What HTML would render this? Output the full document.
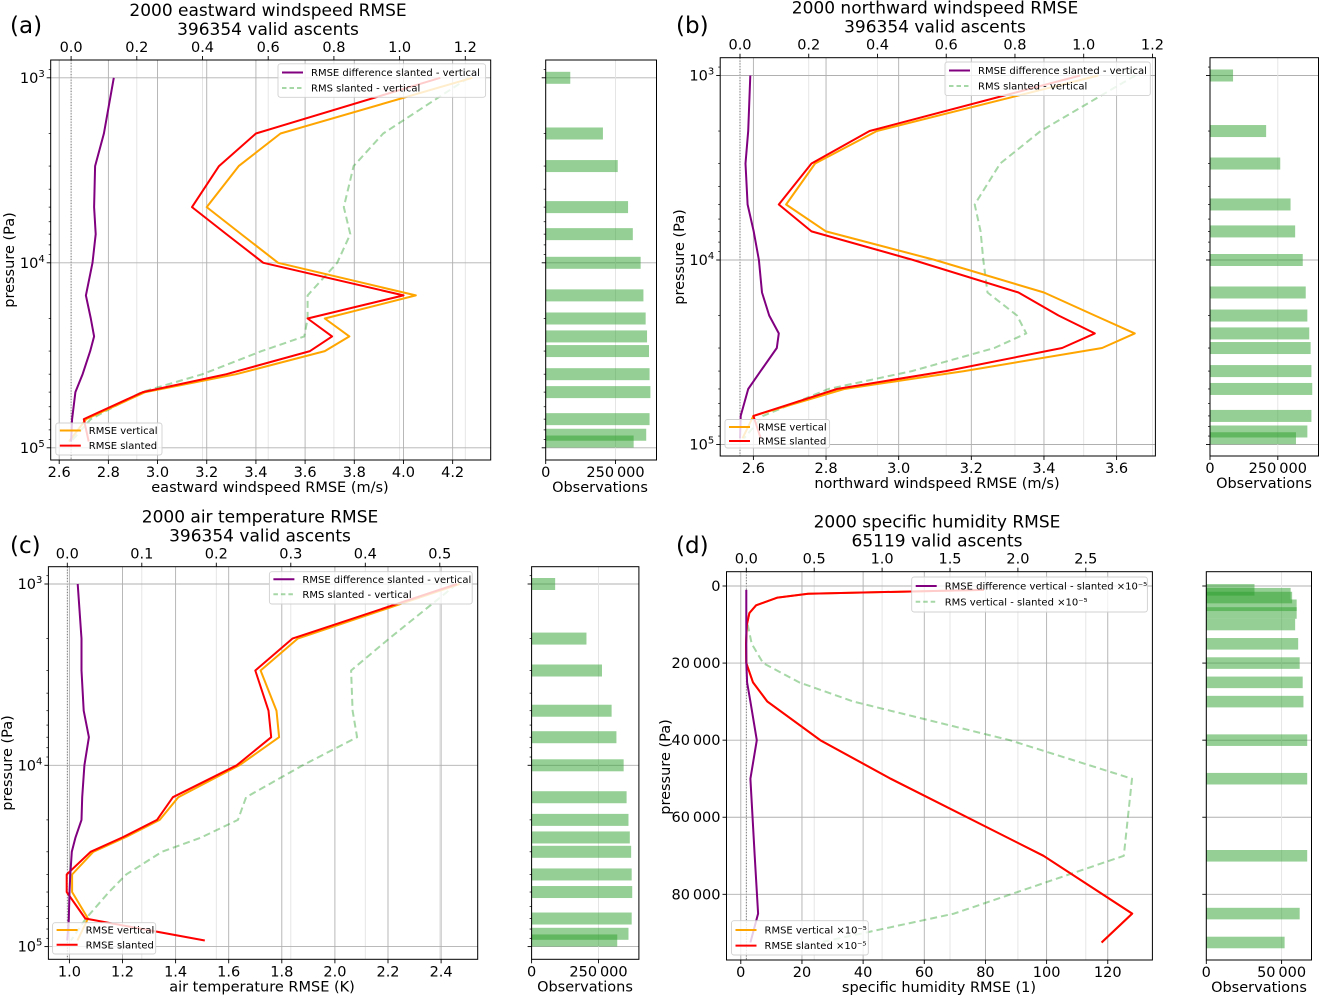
<!DOCTYPE html>
<html><head><meta charset="utf-8"><style>
body{margin:0;background:#fff}
svg{display:block;font-family:"DejaVu Sans","Liberation Sans",sans-serif}
</style></head><body>
<svg id="fig" width="1319" height="996" viewBox="0 0 1319 996" xmlns="http://www.w3.org/2000/svg"></svg>
<script>
// ---------- data ----------
const levelsWind = [1000,2000,3000,5000,7000,10000,15000,20000,25000,30000,40000,50000,70000,92500];
const levelsObs = [1000,2000,3000,5000,7000,10000,15000,20000,25000,30000,40000,50000,70000,85000,92500];
const levelsHum = [1000,2000,3000,5000,7000,10000,15000,20000,25000,30000,40000,50000,70000,85000,92500];

const aVertical = [4.28,3.50,3.33,3.20,3.34,3.49,4.05,3.68,3.78,3.68,3.32,2.95,2.71,2.64];
const aSlanted  = [4.15,3.40,3.25,3.14,3.28,3.43,4.00,3.61,3.71,3.62,3.28,2.94,2.70,2.72];
const aRms      = [1.21,0.95,0.86,0.83,0.85,0.81,0.72,0.72,0.71,0.58,0.40,0.215,0.06,0.0];
const aDiff     = [0.13,0.10,0.073,0.07,0.075,0.065,0.045,0.06,0.07,0.058,0.035,0.013,0.003,0.0];
const aObs      = [88000,205000,258000,295000,312000,340000,350000,358000,363000,370000,372000,375000,372000,360000,315000];

const bVertical = [3.55,2.94,2.77,2.69,2.80,3.10,3.40,3.54,3.65,3.56,3.18,2.85,2.60,2.57];
const bSlanted  = [3.50,2.92,2.76,2.67,2.76,3.04,3.33,3.44,3.54,3.45,3.13,2.83,2.60,2.62];
const bRms      = [1.15,0.875,0.757,0.683,0.70,0.708,0.72,0.806,0.833,0.74,0.50,0.257,0.067,0.012];
const bDiff     = [0.03,0.024,0.016,0.022,0.04,0.055,0.064,0.085,0.113,0.107,0.06,0.024,0.002,0.0];
const bObs      = [85000,207000,259000,297000,314000,342000,353000,359000,366000,371000,374000,377000,374000,359000,317000];

const cVertical = [2.47,1.86,1.72,1.78,1.79,1.64,1.41,1.34,1.21,1.09,1.01,1.01,1.07,1.03];
const cSlanted  = [2.46,1.84,1.70,1.75,1.76,1.63,1.39,1.33,1.20,1.08,0.99,0.99,1.06,1.51];
const cRms      = [0.523,0.432,0.381,0.383,0.389,0.316,0.24,0.229,0.18,0.127,0.079,0.056,0.025,0.005];
const cDiff     = [0.014,0.019,0.019,0.022,0.029,0.023,0.020,0.019,0.011,0.006,0.004,0.003,0.002,0.0];
const cObs      = [88000,205000,263000,299000,317000,344000,355000,362000,367000,372000,374000,376000,374000,362000,320000];

const dVertical = [79.5,22,12,5,2.8,2.0,1.7,1.8,4,8.7,26,49,99,128,118];
const dSlanted  = [79.5,22,12,5,2.8,2.0,1.7,1.8,4,8.7,26,49,99,128,118];
const dRms      = [null,null,null,null,null,0.01,0.04,0.124,0.39,0.79,1.94,2.84,2.78,1.53,0.54];
const dDiff     = [0,0,0,0,0,0,0,0,0.006,0.03,0.077,0.03,0.062,0.087,0.03];
const dObs      = [32000,56000,57000,60000,60000,59000,61000,62000,64000,64500,67000,67000,67000,62000,52000];

const aBottomTicks = [2.6,2.8,3.0,3.2,3.4,3.6,3.8,4.0,4.2];
const bBottomTicks = [2.6,2.8,3.0,3.2,3.4,3.6];
const cBottomTicks = [1.0,1.2,1.4,1.6,1.8,2.0,2.2,2.4];
const dBottomTicks = [0,20,40,60,80,100,120];
const abTopTicks = [0.0,0.2,0.4,0.6,0.8,1.0,1.2];
const cTopTicks = [0.0,0.1,0.2,0.3,0.4,0.5];
const dTopTicks = [0.0,0.5,1.0,1.5,2.0,2.5];
const dYTicks = [0,20000,40000,60000,80000];
const dYTickLabels = ["0","20\u2009000","40\u2009000","60\u2009000","80\u2009000"];
const obsTicksWind = [0,250000];
const obsTickLabelsWind = ["0","250\u2009000"];
const obsTicksHum = [0,50000];
const obsTickLabelsHum = ["0","50\u2009000"];

// ---------- drawing ----------
const NS = "http://www.w3.org/2000/svg";
const svg = document.getElementById("fig");
function nm(el, name, inter){
  
  
}
function mk(tag, attrs, parent){
  const e = document.createElementNS(NS, tag);
  for (const k in attrs) e.setAttribute(k, attrs[k]);
  (parent || svg).appendChild(e);
  return e;
}
function txt(s, x, y, size, anchor, parent, name){
  const t = mk("text", {x:x, y:y, "font-size":size, "text-anchor":anchor||"middle", fill:"#000"}, parent);
  t.textContent = s;
  nm(t, name || "label", false);
  return t;
}
function ln(x1,y1,x2,y2,stroke,w,parent,name,dash){
  const a = {x1:x1,y1:y1,x2:x2,y2:y2,stroke:stroke,"stroke-width":w};
  if (dash) a["stroke-dasharray"] = dash;
  const l = mk("line", a, parent);
  nm(l, name || "line", false);
  return l;
}

function drawPanel(cfg, d){
  const g = mk("g", {});
  nm(g, cfg.id + "-panel", false);
  const B = cfg.box;
  const bx = v => cfg.bot.p0 + (v - cfg.bot.v0) * cfg.bot.k;
  const tx = v => cfg.top.p0 + (v - cfg.top.v0) * cfg.top.k;
  const py = cfg.y.log ? (p => cfg.y.ya + (Math.log10(p) - 3) * cfg.y.dec) : (p => cfg.y.y0 + p * cfg.y.k);
  const ox = v => cfg.obs.x0 + v * cfg.obs.k;

  // clip
  const cp = mk("clipPath", {id: cfg.id + "clip"}, g);
  mk("rect", {x:B.x0, y:B.y0, width:B.x1-B.x0, height:B.y1-B.y0}, cp);
  const cp2 = mk("clipPath", {id: cfg.id + "clip2"}, g);
  mk("rect", {x:cfg.obs.x0, y:B.y0, width:cfg.obs.x1-cfg.obs.x0, height:B.y1-B.y0}, cp2);

  // grids
  d.topTicks.forEach(v => ln(tx(v), B.y0, tx(v), B.y1, "#e3e3e3", 0.9, g, "top-gridline"));
  d.botTicks.forEach(v => ln(bx(v), B.y0, bx(v), B.y1, "#b0b0b0", 0.9, g, "bottom-gridline"));
  ln(tx(0), B.y0, tx(0), B.y1, "#555", 0.8, g, "zero-reference-line", "1.2 1.6");
  d.yMajor.forEach(p => {
    ln(B.x0, py(p), B.x1, py(p), "#b0b0b0", 0.9, g, "y-gridline");
    ln(cfg.obs.x0, py(p), cfg.obs.x1, py(p), "#b0b0b0", 0.9, g, "obs-y-gridline");
  });
  d.obsTicks.forEach(v => ln(ox(v), B.y0, ox(v), B.y1, "#e3e3e3", 0.9, g, "obs-x-gridline"));

  // series
  const lg = mk("g", {"clip-path": "url(#" + cfg.id + "clip)"}, g);
  nm(lg, cfg.id + "-series", false);
  function series(vals, levels, scale, color, w, name, dash, op){
    let pts = [];
    vals.forEach((v,i) => { if (v !== null) pts.push(scale(v).toFixed(1) + "," + py(levels[i]).toFixed(1)); });
    const a = {points: pts.join(" "), fill:"none", stroke:color, "stroke-width":w, "stroke-linejoin":"round"};
    if (dash) a["stroke-dasharray"] = dash;
    if (op) a["stroke-opacity"] = op;
    const pl = mk("polyline", a, lg);
    nm(pl, name, false);
  }
  series(d.rms, d.levels, tx, "#2ca02c", 2, "rms-line", "7 4", 0.42);
  series(d.vertical, d.levels, bx, "#FFA500", 2, "rmse-vertical-line");
  series(d.slanted, d.levels, bx, "#FF0000", 2, "rmse-slanted-line");
  series(d.diff, d.levels, tx, "#800080", 2, "rmse-difference-line");

  // obs bars
  const og = mk("g", {"clip-path": "url(#" + cfg.id + "clip2)"}, g);
  nm(og, cfg.id + "-obs-bars", false);
  d.obs.forEach((v,i) => {
    const p = d.obsLevels[i];
    let y0, h;
    if (cfg.y.log){ y0 = py(p) - 6; h = 12; }
    else { y0 = py(p - 1500); h = py(p + 1500) - y0; }
    const r = mk("rect", {x:ox(0), y:y0, width:ox(v)-ox(0), height:h, fill:"#2ca02c", "fill-opacity":0.5}, og);
    nm(r, "obs-bar", false);
  });

  // spines
  const sp = mk("rect", {x:B.x0, y:B.y0, width:B.x1-B.x0, height:B.y1-B.y0, fill:"none", stroke:"#000", "stroke-width":1}, g);
  nm(sp, "plot-frame", false);
  const sp2 = mk("rect", {x:cfg.obs.x0, y:B.y0, width:cfg.obs.x1-cfg.obs.x0, height:B.y1-B.y0, fill:"none", stroke:"#000", "stroke-width":1}, g);
  nm(sp2, "obs-frame", false);

  // ticks
  d.botTicks.forEach(v => {
    ln(bx(v), B.y1, bx(v), B.y1+4, "#000", 0.9, g, "bottom-tick");
    txt(d.botFmt(v), bx(v), B.y1+17, 14.5, "middle", g, "bottom-tick-label");
  });
  d.topTicks.forEach(v => {
    ln(tx(v), B.y0, tx(v), B.y0-4, "#000", 0.9, g, "top-tick");
    txt(v.toFixed(1), tx(v), B.y0-8, 14.5, "middle", g, "top-tick-label");
  });
  d.yMajor.forEach((p,i) => {
    ln(B.x0, py(p), B.x0-4, py(p), "#000", 0.9, g, "y-tick");
    ln(cfg.obs.x0, py(p), cfg.obs.x0-4, py(p), "#000", 0.9, g, "obs-y-tick");
    if (cfg.y.log){
      const t = mk("text", {x:B.x0-6, y:py(p)+5, "font-size":14.5, "text-anchor":"end"}, g);
      nm(t, "y-tick-label", false);
      t.appendChild(document.createTextNode("10"));
      const s = mk("tspan", {"font-size":10, dy:-6}, t);
      s.textContent = String(Math.round(Math.log10(p)));
    } else {
      txt(d.yLabels[i], B.x0-6, py(p)+5, 14.5, "end", g, "y-tick-label");
    }
  });
  if (cfg.y.log){
    for (let e = 2; e <= 4; e++) for (let m = 2; m <= 9; m++){
      const p = m * Math.pow(10, e);
      const y = py(p);
      if (y < B.y0 || y > B.y1) continue;
      ln(B.x0, y, B.x0-2, y, "#000", 0.7, g, "y-minor-tick");
      ln(cfg.obs.x0, y, cfg.obs.x0-2, y, "#000", 0.7, g, "obs-y-minor-tick");
    }
  }
  d.obsTicks.forEach((v,i) => {
    ln(ox(v), B.y1, ox(v), B.y1+4, "#000", 0.9, g, "obs-tick");
    txt(d.obsLabels[i], ox(v), B.y1+17, 14.5, "middle", g, "obs-tick-label");
  });

  // labels
  txt(cfg.xlabel, cfg.xlabelX, B.y1+32, 14.5, "middle", g, "x-axis-title");
  txt("Observations", cfg.obsLabelX, B.y1+32, 14.5, "middle", g, "obs-axis-title");
  const yl = txt("pressure (Pa)", 0, 0, 14.5, "middle", g, "y-axis-title");
  yl.setAttribute("transform", "translate(" + (cfg.ylabelX) + "," + cfg.ylabelY + ") rotate(-90)");
  txt(cfg.title1, cfg.titleX, B.y0-44, 17, "middle", g, "chart-title");
  txt(cfg.title2, cfg.titleX, B.y0-25, 17, "middle", g, "chart-subtitle");
  txt(cfg.letter, cfg.letterX, cfg.letterY, 23, "start", g, "panel-letter");

  // legends
  function legend(L, entries, name){
    const lgd = mk("g", {}, g);
    nm(lgd, name, false);
    const r = mk("rect", {x:L.x0, y:L.y0, width:L.x1-L.x0, height:L.y1-L.y0, rx:2.5, fill:"#fff", "fill-opacity":0.8, stroke:"#d0d0d0", "stroke-width":0.9}, lgd);
    nm(r, "legend-box", false);
    entries.forEach((en, i) => {
      const y = L.ys[i];
      const l = ln(L.x0+4, y, L.x0+25, y, en.c, 2, lgd, "legend-swatch", en.dash);
      if (en.op) l.setAttribute("stroke-opacity", en.op);
      txt(en.t, L.x0+33, y+3.6, 10, "start", lgd, "legend-entry");
    });
  }
  legend(cfg.legU, [{t:cfg.diffLabel, c:"#800080"},{t:cfg.rmsLabel, c:"#2ca02c", dash:"4.5 3", op:0.42}], "legend-difference");
  legend(cfg.legL, [{t:cfg.vLabel, c:"#FFA500"},{t:cfg.sLabel, c:"#FF0000"}], "legend-rmse");
}

const fmt1 = v => v.toFixed(1);
const fmt0 = v => String(v);
const sup5 = " \u00d710\u207b\u2075";

drawPanel({
  id:"a", box:{x0:50.7,x1:490.7,y0:60,y1:460},
  bot:{v0:2.6,p0:59.2,k:245.9}, top:{v0:0,p0:71.1,k:328.5},
  y:{log:true, ya:77.8, dec:185}, obs:{x0:545.7,x1:656.5,k:69.8/250000},
  xlabel:"eastward windspeed RMSE (m/s)", xlabelX:270, obsLabelX:600, ylabelX:14, ylabelY:260,
  title1:"2000 eastward windspeed RMSE", title2:"396354 valid ascents", titleX:268,
  letter:"(a)", letterX:10, letterY:33,
  legU:{x0:278,x1:485.6,y0:63.8,y1:97.3,ys:[72.5,88]}, legL:{x0:55.8,x1:162,y0:423,y1:455,ys:[430.5,445.6]},
  diffLabel:"RMSE difference slanted - vertical", rmsLabel:"RMS slanted - vertical", vLabel:"RMSE vertical", sLabel:"RMSE slanted"
},{levels:levelsWind, vertical:aVertical, slanted:aSlanted, rms:aRms, diff:aDiff, obs:aObs, obsLevels:levelsObs,
   botTicks:aBottomTicks, botFmt:fmt1, topTicks:abTopTicks, yMajor:[1000,10000,100000], obsTicks:obsTicksWind, obsLabels:obsTickLabelsWind});

drawPanel({
  id:"b", box:{x0:720.2,x1:1155.4,y0:57.7,y1:456},
  bot:{v0:2.6,p0:753.4,k:363.2}, top:{v0:0,p0:740,k:343.7},
  y:{log:true, ya:75.5, dec:184.5}, obs:{x0:1210,x1:1318.5,k:67.8/250000},
  xlabel:"northward windspeed RMSE (m/s)", xlabelX:937, obsLabelX:1264, ylabelX:684, ylabelY:257,
  title1:"2000 northward windspeed RMSE", title2:"396354 valid ascents", titleX:935,
  letter:"(b)", letterX:676, letterY:33,
  legU:{x0:945,x1:1150.3,y0:62,y1:95.6,ys:[70.5,86]}, legL:{x0:725,x1:829.6,y0:419.5,y1:448,ys:[427,441]},
  diffLabel:"RMSE difference slanted - vertical", rmsLabel:"RMS slanted - vertical", vLabel:"RMSE vertical", sLabel:"RMSE slanted"
},{levels:levelsWind, vertical:bVertical, slanted:bSlanted, rms:bRms, diff:bDiff, obs:bObs, obsLevels:levelsObs,
   botTicks:bBottomTicks, botFmt:fmt1, topTicks:abTopTicks, yMajor:[1000,10000,100000], obsTicks:obsTicksWind, obsLabels:obsTickLabelsWind});

drawPanel({
  id:"c", box:{x0:48.4,x1:477.7,y0:566.7,y1:959.3},
  bot:{v0:1.0,p0:69.4,k:265.5}, top:{v0:0,p0:67.3,k:745},
  y:{log:true, ya:584, dec:181.3}, obs:{x0:531.6,x1:638.9,k:66.9/250000},
  xlabel:"air temperature RMSE (K)", xlabelX:262, obsLabelX:585, ylabelX:12, ylabelY:763,
  title1:"2000 air temperature RMSE", title2:"396354 valid ascents", titleX:260,
  letter:"(c)", letterX:10, letterY:553,
  legU:{x0:269.4,x1:472.2,y0:571.7,y1:604,ys:[579.3,594.3]}, legL:{x0:52.6,x1:155.7,y0:922.7,y1:954,ys:[930,944.7]},
  diffLabel:"RMSE difference slanted - vertical", rmsLabel:"RMS slanted - vertical", vLabel:"RMSE vertical", sLabel:"RMSE slanted"
},{levels:levelsWind, vertical:cVertical, slanted:cSlanted, rms:cRms, diff:cDiff, obs:cObs, obsLevels:levelsObs,
   botTicks:cBottomTicks, botFmt:fmt1, topTicks:cTopTicks, yMajor:[1000,10000,100000], obsTicks:obsTicksWind, obsLabels:obsTickLabelsWind});

drawPanel({
  id:"d", box:{x0:726.5,x1:1152.4,y0:571.7,y1:960},
  bot:{v0:0,p0:740.8,k:3.058}, top:{v0:0,p0:746.3,k:135.8},
  y:{log:false, y0:586, k:0.003854}, obs:{x0:1206.3,x1:1311.5,k:75.3/50000},
  xlabel:"specific humidity RMSE (1)", xlabelX:939, obsLabelX:1259, ylabelX:670, ylabelY:767,
  title1:"2000 specific humidity RMSE", title2:"65119 valid ascents", titleX:937,
  letter:"(d)", letterX:676, letterY:553,
  legU:{x0:911.7,x1:1147.4,y0:577,y1:612,ys:[586,601.7]}, legL:{x0:731.5,x1:868.3,y0:920.7,y1:955,ys:[930,945.6]},
  diffLabel:"RMSE difference vertical - slanted" + sup5, rmsLabel:"RMS vertical - slanted" + sup5, vLabel:"RMSE vertical" + sup5, sLabel:"RMSE slanted" + sup5
},{levels:levelsHum, vertical:dVertical, slanted:dSlanted, rms:dRms, diff:dDiff, obs:dObs, obsLevels:levelsHum,
   botTicks:dBottomTicks, botFmt:fmt0, topTicks:dTopTicks, yMajor:dYTicks, yLabels:dYTickLabels, obsTicks:obsTicksHum, obsLabels:obsTickLabelsHum});
</script>
</body></html>
